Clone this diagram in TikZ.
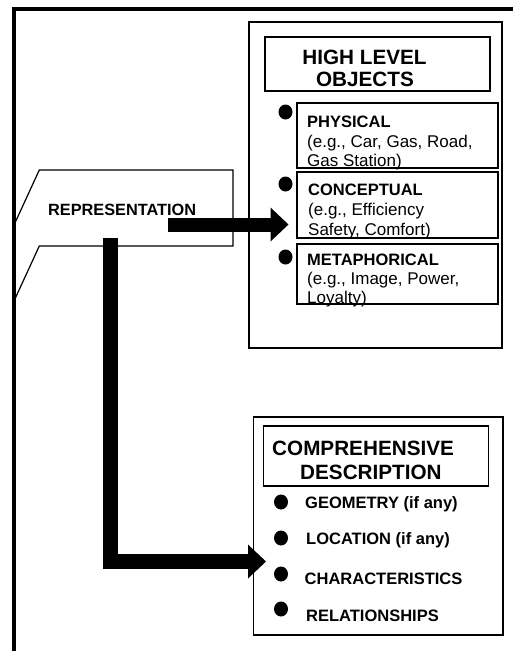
\documentclass[tikz,border=0pt]{standalone}
\usepackage{fontspec}
\setmainfont{Liberation Sans}
\usetikzlibrary{arrows.meta}
\tikzset{
  box/.style={draw=black, line width=1.2pt, anchor=north west, inner sep=0pt, outer sep=0pt},
  bigtitle/.style={font=\fontsize{20.7}{22.4}\selectfont\bfseries, inner sep=0pt},
  itemhead/.style={font=\fontsize{16.5}{19.5}\selectfont\bfseries, anchor=base west, inner sep=0pt},
  itemtext/.style={font=\fontsize{17}{19.5}\selectfont, anchor=base west, inner sep=0pt},
  dot/.style={ellipse, fill=black, minimum width=14pt, minimum height=15pt, inner sep=0pt},
  bigarrow/.style={draw=black, line join=miter, -{Triangle[length=18pt,width=34pt,line width=0pt]}},
}
\usetikzlibrary{shapes.geometric}
\begin{document}
\begin{tikzpicture}[x=1pt,y=-1pt]
\useasboundingbox (0,0) rectangle (513,651);

% outer frame (top and left edges)
\draw[line width=3.8pt, line join=miter] (513,9) -- (14,9) -- (14,651);

% representation tab
\draw[line width=1.2pt, line join=miter]
  (14,225) -- (39.3,170) -- (233,170) -- (233,246) -- (39.3,246) -- (14,301);
\node[font=\fontsize{16.3}{19}\selectfont\bfseries, anchor=base west, inner sep=0pt]
  (rep) at (48,215) {REPRESENTATION};

% high level objects
\node[box, minimum width=253pt, minimum height=326pt] (hlo) at (249,22) {};
\node[box, minimum width=225pt, minimum height=54pt] (hlotitle) at (265,37) {};
\node[bigtitle, anchor=base] (hloA) at (364.5,64.3) {HIGH LEVEL};
\node[bigtitle, anchor=base] (hloB) at (365,86.7) {OBJECTS};

\node[box, minimum width=201pt, minimum height=65pt] (phys) at (297,103) {};
\node[box, minimum width=201pt, minimum height=66pt] (conc) at (297,172) {};
\node[box, minimum width=201pt, minimum height=60pt] (meta) at (297,244) {};

\node[dot] (dphys) at (285.5,112) {};
\node[dot] (dconc) at (285.5,184) {};
\node[dot] (dmeta) at (285.5,257) {};

\node[itemhead] (physA) at (307,127) {PHYSICAL};
\node[itemtext] (physB) at (307,147) {(e.g., Car, Gas, Road,};
\node[itemtext] (physC) at (307,166.5) {Gas Station)};

\node[itemhead] (concA) at (308,195) {CONCEPTUAL};
\node[itemtext] (concB) at (308,215) {(e.g., Efficiency};
\node[itemtext] (concC) at (308,235) {Safety, Comfort)};

\node[itemhead] (metaA) at (307,265) {METAPHORICAL};
\node[itemtext] (metaB) at (307,284) {(e.g., Image, Power,};
\node[itemtext] (metaC) at (307,303) {Loyalty)};

% comprehensive description
\node[box, minimum width=249.5pt, minimum height=218pt] (comp) at (253.5,417) {};
\node[box, minimum width=225pt, minimum height=60pt] (comptitle) at (263.5,426) {};
\node[bigtitle, anchor=base west] (compA) at (272,455) {COMPREHENSIVE};
\node[bigtitle, anchor=base west] (compB) at (300,479) {DESCRIPTION};

\node[dot] (dgeo) at (281,502) {};
\node[dot] (dloc) at (281,538) {};
\node[dot] (dchr) at (281,574) {};
\node[dot] (drel) at (281,609) {};

\node[itemhead] (geo) at (305,508.3) {GEOMETRY (if any)};
\node[itemhead] (loc) at (306,544.3) {LOCATION (if any)};
\node[itemhead] (chr) at (304.5,584.3) {CHARACTERISTICS};
\node[itemhead] (rel) at (306,621) {RELATIONSHIPS};

% connectors
\coordinate (repout) at (168,224.5);
\coordinate (hloin) at (288.5,224.5);
\coordinate (repdown) at (110.5,238);
\coordinate (compin) at (266,561.5);
\draw[bigarrow, line width=14pt] (repout) -- (hloin);
\draw[bigarrow, line width=15.5pt] (repdown) |- (compin);
\end{tikzpicture}
\end{document}
